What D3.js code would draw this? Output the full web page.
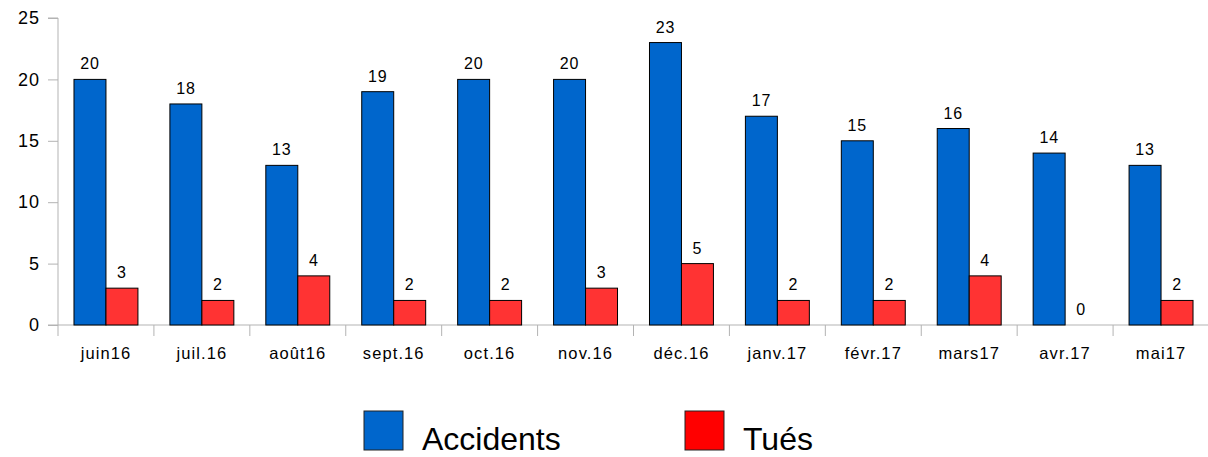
<!DOCTYPE html>
<html>
<head>
<meta charset="utf-8">
<script src="https://cdn.jsdelivr.net/npm/d3@7"></script>
<style>
body { margin: 0; background: #fff; }
text { font-family: "Liberation Sans", Arial, sans-serif; }
</style>
</head>
<body>
<div id="barchart"></div>
<script>
// months along the x axis
const months = ["juin16", "juil.16", "août16", "sept.16", "oct.16", "nov.16", "déc.16", "janv.17", "févr.17", "mars17", "avr.17", "mai17"]
const accidents = [20, 18, 13, 19, 20, 20, 23, 17, 15, 16, 14, 13]
const tues = [3, 2, 4, 2, 2, 3, 5, 2, 2, 4, 0, 2]
const seriesNames = ["Accidents", "Tués"]
const seriesColors = ["#0066cc", "#ff3333"]
const legendColors = ["#0066cc", "#ff0000"]
const yTicks = [0, 5, 10, 15, 20, 25]

var width = 1208, height = 457
var margin = {top: 18, right: 0, bottom: 132, left: 58}
var w = 1209 - margin.left, h = height - margin.top - margin.bottom

var svg = d3.select("#barchart").append("svg")
    .attr("width", width)
    .attr("height", height)

var g = svg.append("g")
    .attr("transform", "translate(" + margin.left + "," + margin.top + ")")

var x = d3.scaleBand().domain(months).range([0, w])
var x1 = d3.scaleBand().domain(seriesNames).range([x.bandwidth() / 6, x.bandwidth() * 5 / 6])
var y = d3.scaleLinear().domain([0, 25]).range([h, 0])

var data = months.map(function(m, i) {
    return {month: m, values: [accidents[i], tues[i]]}
})

// y axis
var yAxis = g.append("g")
    .call(d3.axisLeft(y).tickValues(yTicks).tickSize(10).tickPadding(8))
yAxis.selectAll("path, line").attr("stroke", "#b3b3b3")
yAxis.selectAll("text").style("font-size", "18px").attr("fill", "#000").attr("letter-spacing", "1px")
yAxis.select(".domain").attr("d", "M0," + h + "V0H-10")

// x axis
var xAxis = g.append("g")
    .attr("transform", "translate(0," + h + ")")
    .call(d3.axisBottom(x).tickSize(0).tickPadding(22))
xAxis.select(".domain").attr("stroke", "#b3b3b3").attr("d", "M-10,0H" + w)
xAxis.selectAll("text").style("font-size", "16.5px").attr("fill", "#000").attr("letter-spacing", "1.1px")
// tick marks between categories
g.append("g").selectAll("line")
    .data(d3.range(months.length + 1))
    .enter().append("line")
      .attr("x1", function(i) { return i * x.step() })
      .attr("x2", function(i) { return i * x.step() })
      .attr("y1", h)
      .attr("y2", h + 11)
      .attr("stroke", "#b3b3b3")

var groups = g.selectAll(".grp")
    .data(data)
  .enter().append("g")
    .attr("class", "grp")
    .attr("transform", function(d) { return "translate(" + x(d.month) + ",0)" })

groups.selectAll("rect")
    .data(function(d) { return d.values.map(function(v, k) { return {s: seriesNames[k], v: v, k: k} }) })
  .enter().append("rect")
    .filter(function(d) { return d.v > 0 })
    .attr("x", function(d) { return x1(d.s) })
    .attr("width", x1.bandwidth())
    .attr("y", function(d) { return y(d.v) })
    .attr("height", function(d) { return h - y(d.v) })
    .attr("fill", function(d) { return seriesColors[d.k] })
    .attr("stroke", "#000")
    .attr("stroke-width", 1)

groups.selectAll(".lbl")
    .data(function(d) { return d.values.map(function(v, k) { return {s: seriesNames[k], v: v} }) })
  .enter().append("text")
    .attr("class", "lbl")
    .attr("x", function(d) { return x1(d.s) + x1.bandwidth() / 2 })
    .attr("y", function(d) { return y(d.v) - 10 })
    .attr("text-anchor", "middle")
    .attr("letter-spacing", "0.8px")
    .style("font-size", "16px")
    .text(function(d) { return d.v })

// legend
var legendX = [364, 685]
var legend = svg.selectAll(".legend")
    .data(seriesNames)
  .enter().append("g")
    .attr("class", "legend")
    .attr("transform", function(d, i) { return "translate(" + legendX[i] + ",411)" })
legend.append("rect")
    .attr("width", 39)
    .attr("height", 39)
    .attr("fill", function(d, i) { return legendColors[i] })
    .attr("stroke", "#222")
legend.append("text")
    .attr("x", 58)
    .attr("y", 39)
    .style("font-size", "32px")
    .text(function(d) { return d })
</script>
</body>
</html>
